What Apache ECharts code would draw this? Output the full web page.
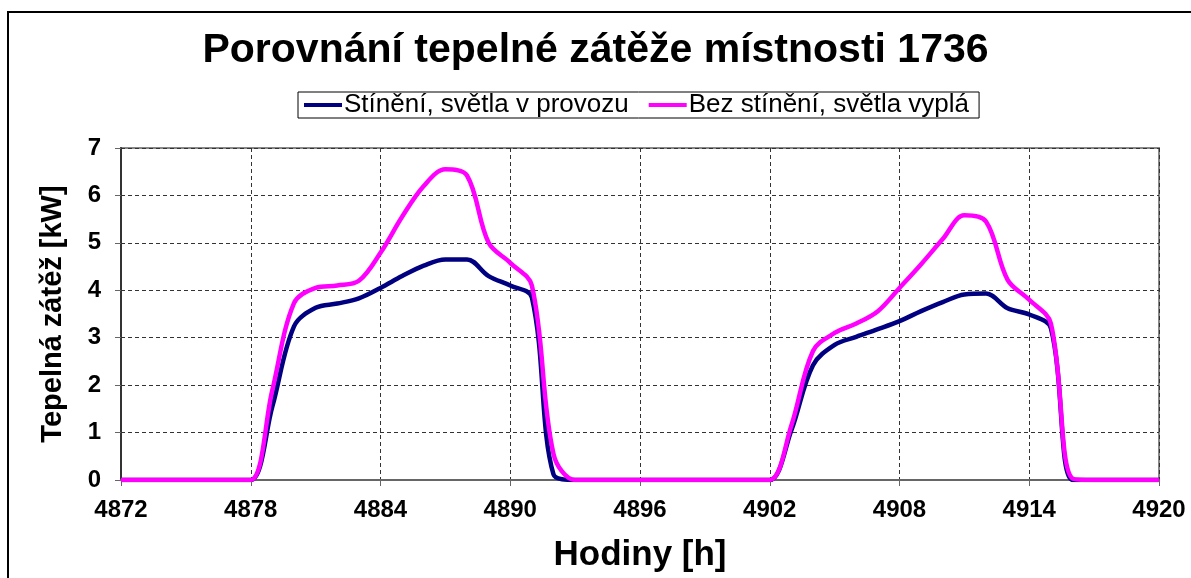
<!DOCTYPE html>
<html>
<head>
<meta charset="utf-8">
<script src="https://cdn.jsdelivr.net/npm/echarts@6/dist/echarts.min.js"></script>
<style>
  html, body { margin: 0; padding: 0; background: #fff; }
  #chart { width: 1191px; height: 578px; }
</style>
</head>
<body>
<div id="chart"></div>
<script>
// hodiny (h)
const hours = [
  4872, 4873, 4874, 4875, 4876, 4877, 4878, 4879, 4880, 4881, 4882, 4883,
  4884, 4885, 4886, 4887, 4888, 4889, 4890, 4891, 4892, 4893, 4894, 4895,
  4896, 4897, 4898, 4899, 4900, 4901, 4902, 4903, 4904, 4905, 4906, 4907,
  4908, 4909, 4910, 4911, 4912, 4913, 4914, 4915, 4916, 4917, 4918, 4919, 4920
];
// Stínění, světla v provozu (kW)
const stineni = [
  0, 0, 0, 0, 0, 0, 0, 1.55, 3.24, 3.63, 3.72, 3.83,
  4.05, 4.3, 4.52, 4.65, 4.65, 4.3, 4.1, 3.85, 0.12, 0, 0, 0,
  0, 0, 0, 0, 0, 0, 0, 1.05, 2.42, 2.85, 3.02, 3.18,
  3.35, 3.56, 3.75, 3.91, 3.93, 3.62, 3.49, 3.2, 0, 0, 0, 0, 0
];
// Bez stínění, světla vyplá (kW)
const bezStineni = [
  0, 0, 0, 0, 0, 0, 0, 1.9, 3.73, 4.05, 4.1, 4.2,
  4.79, 5.55, 6.2, 6.55, 6.42, 5.0, 4.58, 4.1, 0.55, 0, 0, 0,
  0, 0, 0, 0, 0, 0, 0, 1.15, 2.72, 3.1, 3.3, 3.56,
  4.05, 4.55, 5.08, 5.58, 5.45, 4.22, 3.8, 3.3, 0.03, 0, 0, 0, 0
];
const seriesNames = ['Stínění, světla v provozu', 'Bez stínění, světla vyplá'];

const chart = echarts.init(document.getElementById('chart'));

const dashed = { color: '#333', type: [4, 3], width: 1 };

chart.setOption({
  animation: false,
  textStyle: { fontFamily: 'Liberation Sans, Arial, sans-serif' },
  title: {
    text: 'Porovnání tepelné zátěže místnosti 1736',
    left: 'center',
    top: 25,
    textStyle: { fontSize: 41, fontWeight: 'bold', color: '#000' }
  },
  legend: {
    data: seriesNames,
    top: 92,
    left: 298,
    icon: 'rect',
    itemWidth: 38,
    itemHeight: 4,
    itemGap: 20,
    padding: [0, 10, 0, 6],
    borderColor: '#000',
    borderWidth: 1,
    textStyle: { fontSize: 26, color: '#000', padding: [0, 0, 0, -3] }
  },
  grid: {
    left: 121,
    right: 32,
    top: 148,
    bottom: 98,
    show: true,
    borderColor: '#888',
    borderWidth: 2
  },
  xAxis: {
    type: 'value',
    min: 4872,
    max: 4920,
    interval: 6,
    name: 'Hodiny [h]',
    nameLocation: 'middle',
    nameGap: 58,
    nameTextStyle: { fontSize: 35, fontWeight: 'bold', color: '#000' },
    axisLine: { lineStyle: { color: '#666', width: 2 } },
    axisTick: { show: true, length: 6, lineStyle: { color: '#666' } },
    axisLabel: { fontSize: 24, fontWeight: 'bold', color: '#000', margin: 18, formatter: v => String(v) },
    splitLine: { show: true, lineStyle: dashed }
  },
  yAxis: {
    type: 'value',
    min: 0,
    max: 7,
    interval: 1,
    name: 'Tepelná zátěž [kW]',
    nameLocation: 'middle',
    nameGap: 54,
    nameTextStyle: { fontSize: 29, fontWeight: 'bold', color: '#000' },
    axisLine: { show: true, lineStyle: { color: '#333', width: 2 } },
    axisTick: { show: true, length: 6, lineStyle: { color: '#666' } },
    axisLabel: { fontSize: 24, fontWeight: 'bold', color: '#000', margin: 20 },
    splitLine: { show: true, lineStyle: dashed }
  },
  graphic: [
    {
      type: 'polyline',
      shape: { points: [[1191, 12], [8, 12], [8, 578]] },
      style: { stroke: '#000', lineWidth: 2, fill: null }
    }
  ],
  series: [
    {
      name: seriesNames[0],
      type: 'line',
      data: hours.map((h, i) => [h, stineni[i]]),
      smooth: 0.35,
      showSymbol: false,
      lineStyle: { color: '#000080', width: 4.5 },
      itemStyle: { color: '#000080' }
    },
    {
      name: seriesNames[1],
      type: 'line',
      data: hours.map((h, i) => [h, bezStineni[i]]),
      smooth: 0.35,
      showSymbol: false,
      lineStyle: { color: '#ff00ff', width: 4.5 },
      itemStyle: { color: '#ff00ff' }
    }
  ]
});
</script>
</body>
</html>
